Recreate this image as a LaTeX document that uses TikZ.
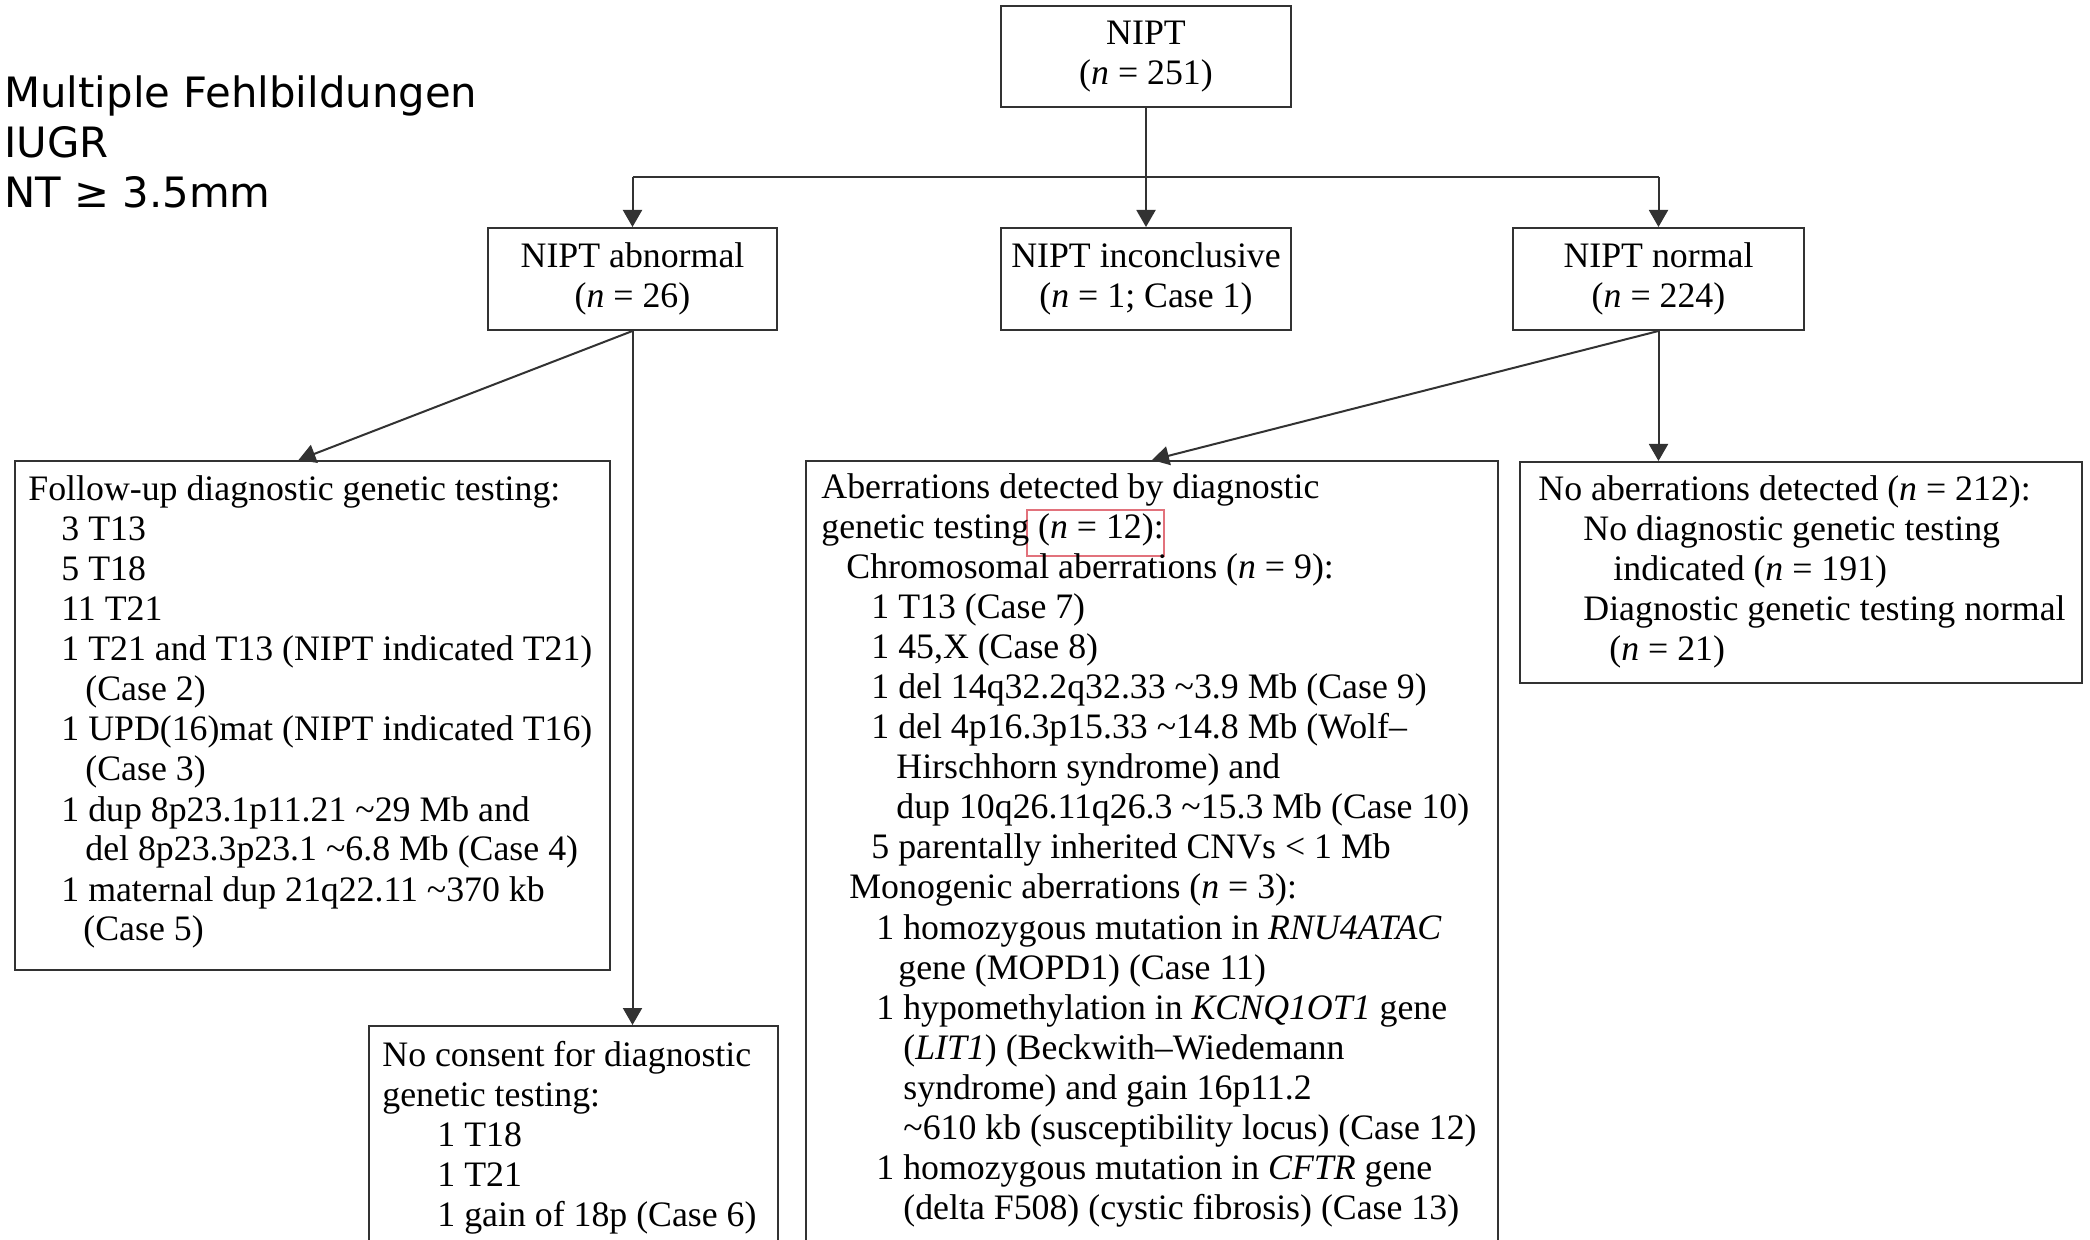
\documentclass[tikz,border=0pt]{standalone}
\usepackage{fontspec}
\setmainfont{Liberation Serif}
\newfontfamily\sansf{DejaVu Sans}
\usetikzlibrary{arrows.meta}
\definecolor{linec}{RGB}{50,50,50}
\definecolor{redbox}{RGB}{226,114,124}
\newcommand\tline[4]{\node[txt] (#1) at (#2,#3) {#4};}
\newcommand\tld{\textasciitilde}
\begin{document}
\begin{tikzpicture}[x=0.5pt,y=-0.5pt,
  box/.style={draw=linec,line width=1pt,inner sep=0pt,anchor=north west},
  cbox/.style={draw=linec,line width=1pt,inner sep=0pt,align=center,font=\fontsize{17.9}{20}\selectfont},
  txt/.style={inner sep=0pt,anchor=base west,font=\fontsize{17.9}{20}\selectfont},
  stxt/.style={inner sep=0pt,anchor=base west,font=\sansf\fontsize{20.9}{25}\selectfont},
  conn/.style={draw=linec,line width=1pt},
  arr/.style={conn,-{Triangle[length=8.5pt,width=9.5pt]}}]
\useasboundingbox (0,0) rectangle (2090,1240);
\fill[white] (0,0) rectangle (2090,1240);

% top-left labels
\node[stxt] (s1) at (4,108) {Multiple Fehlbildungen};
\node[stxt] (s2) at (4,158) {IUGR};
\node[stxt] (s3) at (4,208) {NT ≥ 3.5mm};

% small boxes
\node[cbox,minimum width=145pt,minimum height=50.5pt] (nipt) at (1146,56.5) {NIPT\\(\textit{n} = 251)};
\node[cbox,minimum width=144.5pt,minimum height=51pt] (abn) at (632.5,279) {NIPT abnormal\\(\textit{n} = 26)};
\node[cbox,minimum width=145pt,minimum height=51pt] (inc) at (1146,279) {NIPT inconclusive\\(\textit{n} = 1; Case 1)};
\node[cbox,minimum width=145.5pt,minimum height=51pt] (nor) at (1658.5,279) {NIPT normal\\(\textit{n} = 224)};

% large boxes
\node[box,minimum width=297.5pt,minimum height=254.5pt] (fu) at (14,460) {};
\node[box,minimum width=204.5pt,minimum height=150pt] (nc) at (368,1025) {};
\node[box,minimum width=346pt,minimum height=450pt] (ab) at (805,460) {};
\node[box,minimum width=281pt,minimum height=110.5pt] (na) at (1519,461) {};

% highlight
\node[draw=redbox,line width=1pt,inner sep=0pt,anchor=north west,minimum width=68.5pt,minimum height=23pt] (hl) at (1026,509) {};

% connectors
\coordinate (split) at (1146,177);
\draw[arr] (nipt.south) -- (inc.north);
\draw[conn] (split -| abn.north) -- (split -| nor.north);
\draw[arr] (split -| abn.north) -- (abn.north);
\draw[arr] (split -| nor.north) -- (nor.north);
\draw[arr] (abn.south) -- ([xshift=-7pt]fu.north);
\draw[arr] (abn.south) -- (abn.south |- nc.north);
\draw[arr] (nor.south) -- (ab.north);
\draw[arr] (nor.south) -- (nor.south |- na.north);

% follow-up text
\tline{fu0}{28}{501}{Follow-up diagnostic genetic testing:}
\tline{fu1}{61}{541}{3 T13}
\tline{fu2}{61}{581}{5 T18}
\tline{fu3}{61}{621}{11 T21}
\tline{fu4}{61}{661}{1 T21 and T13 (NIPT indicated T21)}
\tline{fu5}{85}{701}{(Case 2)}
\tline{fu6}{61}{741}{1 UPD(16)mat (NIPT indicated T16)}
\tline{fu7}{85}{781}{(Case 3)}
\tline{fu8}{61}{821}{1 dup 8p23.1p11.21 \tld29 Mb and}
\tline{fu9}{85}{861}{del 8p23.3p23.1 \tld6.8 Mb (Case 4)}
\tline{fu10}{61}{901}{1 maternal dup 21q22.11 \tld370 kb}
\tline{fu11}{83}{941}{(Case 5)}

% no consent text
\tline{nc0}{382}{1066}{No consent for diagnostic}
\tline{nc1}{382}{1106}{genetic testing:}
\tline{nc2}{437}{1146}{1 T18}
\tline{nc3}{437}{1186}{1 T21}
\tline{nc4}{437}{1226}{1 gain of 18p (Case 6)}

% aberrations text
\tline{ab0}{821}{499}{Aberrations detected by diagnostic}
\tline{ab1}{821}{539}{genetic testing (\textit{n} = 12):}
\tline{ab2}{846}{579}{Chromosomal aberrations (\textit{n} = 9):}
\tline{ab3}{871}{619}{1 T13 (Case 7)}
\tline{ab4}{871}{659}{1 45,X (Case 8)}
\tline{ab5}{871}{699}{1 del 14q32.2q32.33 \tld3.9 Mb (Case 9)}
\tline{ab6}{871}{739}{1 del 4p16.3p15.33 \tld14.8 Mb (Wolf–}
\tline{ab7}{896}{779}{Hirschhorn syndrome) and}
\tline{ab8}{896}{819}{dup 10q26.11q26.3 \tld15.3 Mb (Case 10)}
\tline{ab9}{871}{859}{5 parentally inherited CNVs < 1 Mb}
\tline{ab10}{849}{899}{Monogenic aberrations (\textit{n} = 3):}
\tline{ab11}{876}{939}{1 homozygous mutation in \textit{RNU4ATAC}}
\tline{ab12}{898}{979}{gene (MOPD1) (Case 11)}
\tline{ab13}{876}{1019}{1 hypomethylation in \textit{KCNQ1OT1} gene}
\tline{ab14}{903}{1059}{(\textit{LIT1}) (Beckwith–Wiedemann}
\tline{ab15}{903}{1099}{syndrome) and gain 16p11.2}
\tline{ab16}{903}{1139}{\tld610 kb (susceptibility locus) (Case 12)}
\tline{ab17}{876}{1179}{1 homozygous mutation in \textit{CFTR} gene}
\tline{ab18}{903}{1219}{(delta F508) (cystic fibrosis) (Case 13)}

% no aberrations text
\tline{na0}{1538}{501}{No aberrations detected (\textit{n} = 212):}
\tline{na1}{1583}{541}{No diagnostic genetic testing}
\tline{na2}{1613}{581}{indicated (\textit{n} = 191)}
\tline{na3}{1583}{621}{Diagnostic genetic testing normal}
\tline{na4}{1609}{661}{(\textit{n} = 21)}
\end{tikzpicture}
\end{document}
